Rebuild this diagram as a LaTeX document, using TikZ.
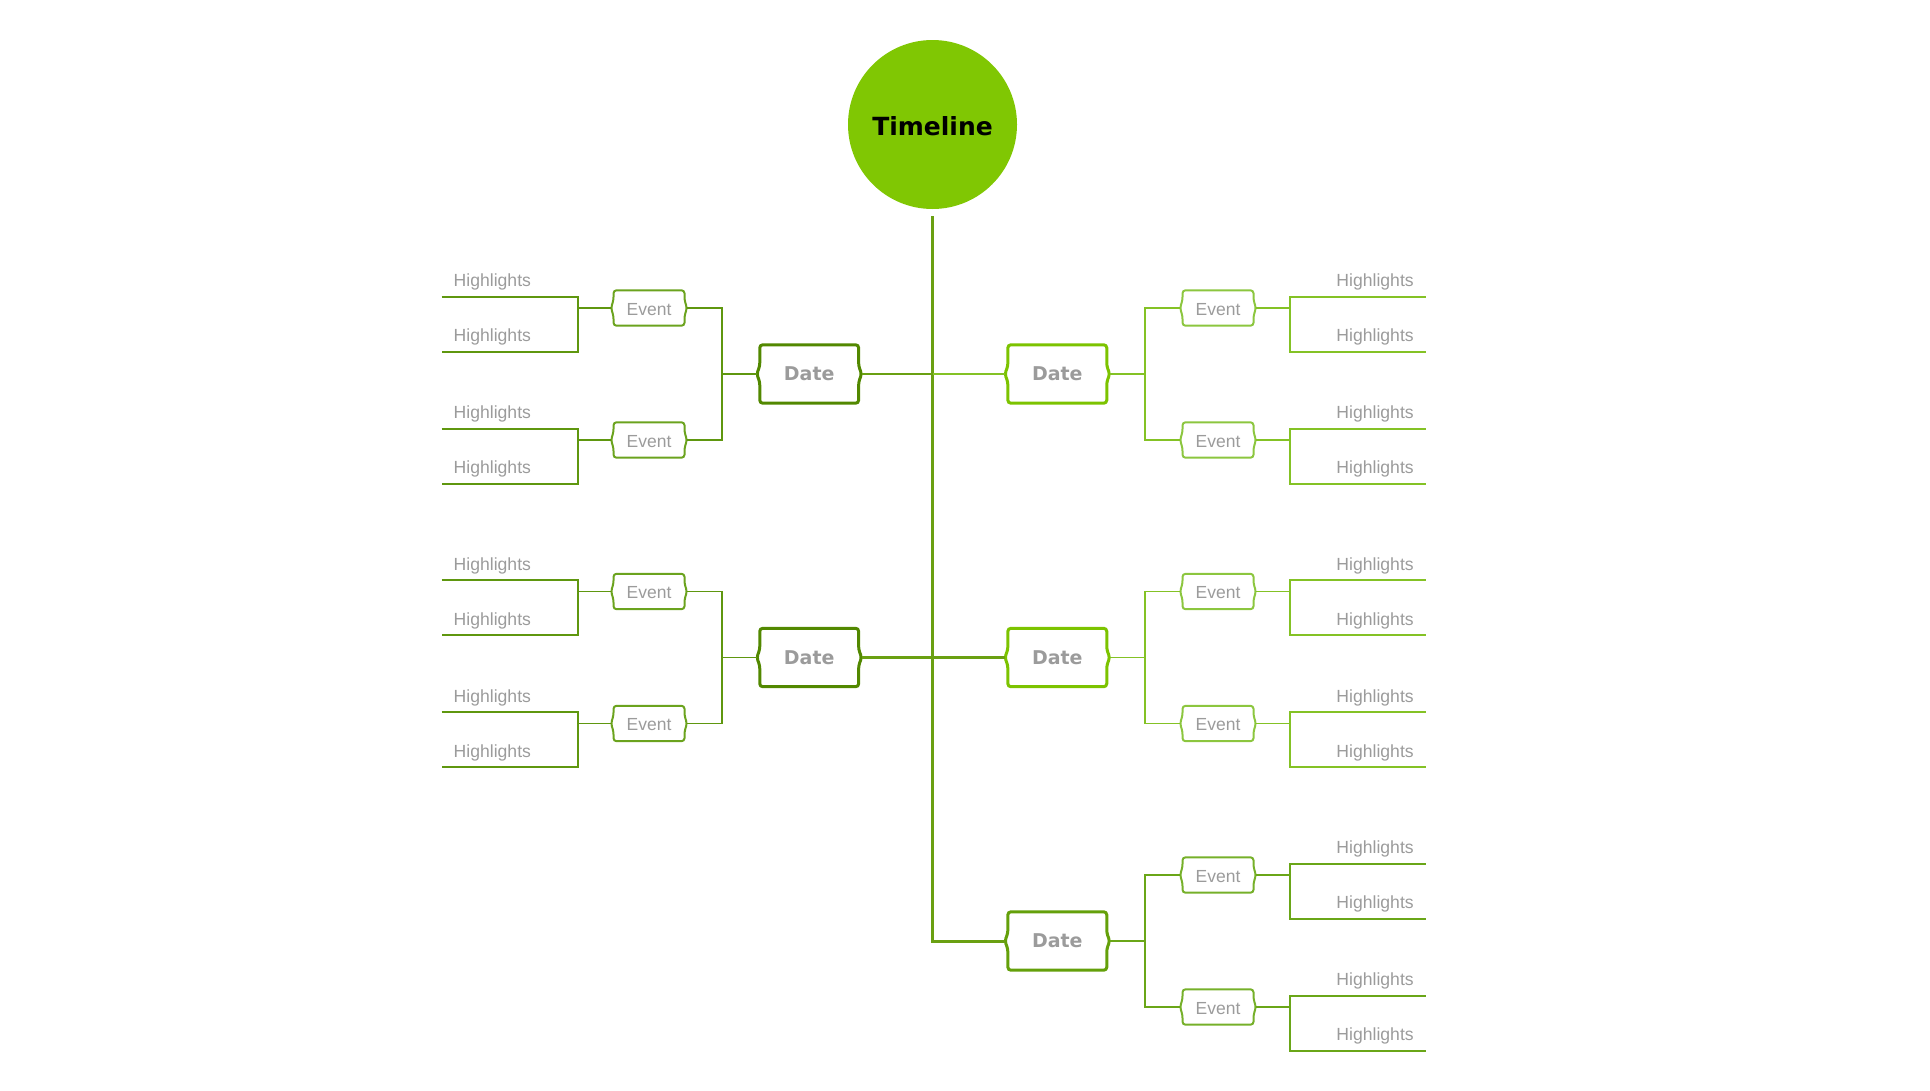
\documentclass[tikz,border=0pt]{standalone}
\usepackage{fontspec}
\setmainfont{Liberation Sans}
\newfontfamily\dejavu{DejaVu Sans}
\usetikzlibrary{calc}
\definecolor{circ}{HTML}{80C703}
\definecolor{trunkc}{HTML}{6AA012}
\definecolor{ldate}{HTML}{528800}
\definecolor{lline}{HTML}{5F970F}
\definecolor{levent}{HTML}{6BA31E}
\definecolor{rdate}{HTML}{7CC300}
\definecolor{rline}{HTML}{84C225}
\definecolor{revent}{HTML}{8CC63F}
\definecolor{bdate}{HTML}{64A00A}
\definecolor{bline}{HTML}{6AA618}
\definecolor{bevent}{HTML}{76B02A}
\definecolor{txt}{HTML}{9B9B9B}
\tikzset{
  datebox/.style={minimum width=104.5, minimum height=58, inner sep=0, text height=13.4, text depth=0, font=\dejavu\bfseries\fontsize{19}{22}\selectfont, text=txt},
  eventbox/.style={minimum width=75.6, minimum height=35, inner sep=0, text height=14.2, text depth=0, font=\fontsize{17.5}{20}\selectfont, text=txt},
  hl/.style={minimum width=136, minimum height=31, inner sep=0, text width=112, text height=11, text depth=0, font=\fontsize{17.6}{20}\selectfont, text=txt},
  conn/.style={line width=1.8},
}
% frame with brace tips: node, colour, line width, tip size
\newcommand\dtframe[4]{%
  \draw[#2, line width=#3, rounded corners=3]
    ($(#1.north west)+(#4,0)$) -- ($(#1.north east)+(-#4,0)$)
    -- ($(#1.east)+(-#4,-8)$) -- (#1.east) -- ($(#1.east)+(-#4,8)$)
    -- ($(#1.south east)+(-#4,0)$) -- ($(#1.south west)+(#4,0)$)
    -- ($(#1.west)+(#4,8)$) -- (#1.west) -- ($(#1.west)+(#4,-8)$) -- cycle;}
% left highlights: event name, event y, line colour
\newcommand\lefthl[3]{%
  \node[hl, align=left] (#1h1) at (509.7,#2-26.8) {Highlights};
  \node[hl, align=left] (#1h2) at (509.7,#2+28.2) {Highlights};
  \draw[#3, line width=2] (#1h1.south west) -- (#1h1.south east) -- (#1h2.south east) -- (#1h2.south west);
  \draw[#3, conn] (#1.west) -- (#1.west -| #1h1.south east);}
% right highlights
\newcommand\righthl[3]{%
  \node[hl, align=right] (#1h1) at (1357.7,#2-26.8) {Highlights};
  \node[hl, align=right] (#1h2) at (1357.7,#2+28.2) {Highlights};
  \draw[#3, line width=2] (#1h1.south east) -- (#1h1.south west) -- (#1h2.south west) -- (#1h2.south east);
  \draw[#3, conn] (#1.east) -- (#1.east -| #1h1.south west);}
% left group: name, y
\newcommand\leftgrp[2]{%
  \node[datebox] (#1) at (809.2,#2) {Date};
  \dtframe{#1}{ldate}{3}{3}
  \node[eventbox] (#1a) at (649,#2-66) {Event};
  \node[eventbox] (#1b) at (649,#2+66) {Event};
  \dtframe{#1a}{levent}{2}{2.5}
  \dtframe{#1b}{levent}{2}{2.5}
  \draw[lline, conn] (#1.west) -- ++(-34.6,0) coordinate (#1j);
  \draw[lline, conn] (#1a.east) -| (#1j) |- (#1b.east);
  \lefthl{#1a}{#2-66}{lline}
  \lefthl{#1b}{#2+66}{lline}}
% right group: name, y, date colour, line colour, event colour
\newcommand\rightgrp[5]{%
  \node[datebox] (#1) at (1057.3,#2) {Date};
  \dtframe{#1}{#3}{3}{3}
  \node[eventbox] (#1a) at (1218,#2-66) {Event};
  \node[eventbox] (#1b) at (1218,#2+66) {Event};
  \dtframe{#1a}{#5}{2}{2.5}
  \dtframe{#1b}{#5}{2}{2.5}
  \draw[#4, conn] (#1.east) -- ++(35.5,0) coordinate (#1j);
  \draw[#4, conn] (#1a.west) -| (#1j) |- (#1b.west);
  \righthl{#1a}{#2-66}{#4}
  \righthl{#1b}{#2+66}{#4}}
\begin{document}
\begin{tikzpicture}[x=1pt,y=-1pt]
\useasboundingbox (0,0) rectangle (1930,1090);
\node[circle, fill=circ, minimum size=169, inner sep=0, text height=21, text depth=0,
      font=\dejavu\bfseries\fontsize{25}{30}\selectfont, text=black] (tl) at (932.5,124.5) {Timeline};
\leftgrp{L1}{374}
\leftgrp{L2}{657.5}
\rightgrp{R1}{374}{rdate}{rline}{revent}
\rightgrp{R2}{657.5}{rdate}{rline}{revent}
\rightgrp{R3}{941}{bdate}{bline}{bevent}
\draw[trunkc, line width=3] ([yshift=-7pt]tl.south) -- (tl.south |- R3.west) -- (R3.west);
\draw[trunkc, line width=2.6] (L1.east) -- (L1.east -| tl.south);
\draw[trunkc, line width=2.6] (L2.east) -- (L2.east -| tl.south);
\draw[rline, line width=2.4] (tl.south |- R1.west) -- (R1.west);
\draw[trunkc, line width=2.4] (tl.south |- R2.west) -- (R2.west);
\end{tikzpicture}
\end{document}
